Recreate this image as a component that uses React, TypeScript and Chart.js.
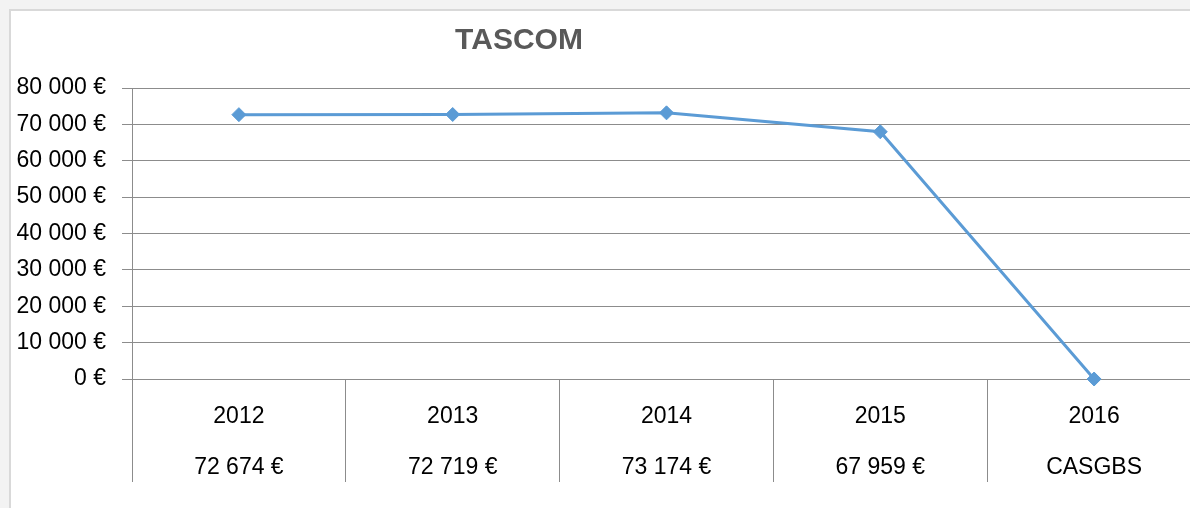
import React, { useEffect, useRef } from 'react';
import { Chart, registerables } from 'chart.js';

Chart.register(...registerables);

const chartTitle = 'TASCOM';
const years = ['2012', '2013', '2014', '2015', '2016'];
const values = [72674, 72719, 73174, 67959, 0];
const tableRow = ['72 674 €', '72 719 €', '73 174 €', '67 959 €', 'CASGBS'];
const yMin = 0;
const yMax = 80000;
const yStep = 10000;

const FONT = '"Liberation Sans", Arial, sans-serif';
const GRID = '#8c8c8c';

const fmt = (v: number) => String(v).replace(/\B(?=(\d{3})+(?!\d))/g, ' ') + ' €';

const titlePlugin = {
  id: 'customTitle',
  afterDraw(chart: any) {
    const ctx = chart.ctx;
    ctx.save();
    ctx.font = `bold 30px ${FONT}`;
    ctx.fillStyle = '#595959';
    ctx.textAlign = 'center';
    ctx.textBaseline = 'middle';
    ctx.fillText(chartTitle, 519, 41);
    ctx.restore();
  },
};

export default function App() {
  const ref = useRef<HTMLCanvasElement | null>(null);

  useEffect(() => {
    if (!ref.current) return;
    const chart = new Chart(ref.current, {
      type: 'line',
      data: {
        labels: years.map((y, i) => [y, tableRow[i]]),
        datasets: [
          {
            data: values,
            borderColor: '#5b9bd5',
            backgroundColor: '#5b9bd5',
            borderWidth: 3,
            tension: 0,
            pointStyle: 'rectRot',
            pointRadius: 7,
            pointBorderWidth: 1,
            pointBackgroundColor: '#5b9bd5',
            pointBorderColor: '#5b9bd5',
            clip: false,
          },
        ],
      },
      plugins: [titlePlugin],
      options: {
        responsive: false,
        animation: false,
        devicePixelRatio: 1,
        layout: { padding: { top: 88, left: 0, right: 0, bottom: 0 } },
        plugins: {
          legend: { display: false },
          title: { display: false },
          tooltip: { enabled: false },
        },
        scales: {
          x: {
            type: 'category',
            offset: true,
            grid: {
              display: true,
              offset: true,
              drawOnChartArea: false,
              drawTicks: true,
              tickLength: 103,
              color: GRID,
              lineWidth: 1,
            },
            border: { display: true, color: GRID, width: 1 },
            ticks: {
              autoSkip: false,
              maxRotation: 0,
              minRotation: 0,
              padding: -91,
              color: '#000000',
              font: { family: FONT, size: 23, lineHeight: 51 / 23 },
            },
            afterFit: (scale: any) => {
              scale.height = 129;
            },
          },
          y: {
            min: yMin,
            max: yMax,
            grid: {
              color: GRID,
              lineWidth: 1,
              drawTicks: true,
              tickLength: 10,
            },
            border: { display: true, color: GRID, width: 1 },
            ticks: {
              stepSize: yStep,
              padding: 16,
              color: '#000000',
              font: { family: FONT, size: 23 },
              callback: (v: any) => fmt(Number(v)),
            },
            afterFit: (scale: any) => {
              scale.width = 132;
            },
          },
        },
      },
    } as any);
    return () => chart.destroy();
  }, []);

  return (
    <div
      style={{
        position: 'absolute',
        left: 0,
        top: 0,
        width: 1190,
        height: 508,
        background: '#f3f3f3',
        overflow: 'hidden',
      }}
    >
      <div
        style={{
          position: 'absolute',
          left: 9,
          top: 9,
          width: 1300,
          height: 600,
          background: '#ffffff',
          borderLeft: '2px solid #d9d9d9',
          borderTop: '2px solid #d9d9d9',
        }}
      />
      <canvas
        ref={ref}
        width={1209}
        height={508}
        style={{ position: 'absolute', left: 0, top: 0, width: 1209, height: 508 }}
      />
    </div>
  );
}
